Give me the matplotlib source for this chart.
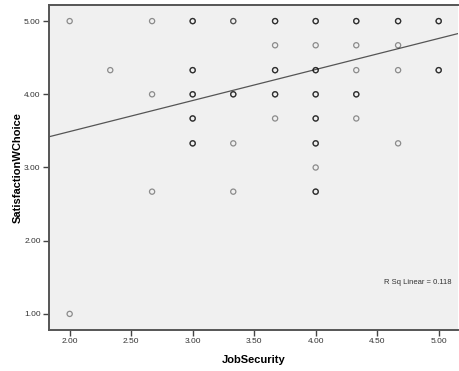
import numpy as np
import matplotlib
matplotlib.use("Agg")
import matplotlib.pyplot as plt

# unique (JobSecurity, SatisfactionWChoice) positions and rough overlap counts
job_security = [2.00, 2.00, 2.33, 2.67, 2.67, 2.67,
                3.00, 3.00, 3.00, 3.00, 3.00,
                3.33, 3.33, 3.33, 3.33,
                3.67, 3.67, 3.67, 3.67, 3.67,
                4.00, 4.00, 4.00, 4.00, 4.00, 4.00, 4.00, 4.00,
                4.33, 4.33, 4.33, 4.33, 4.33,
                4.67, 4.67, 4.67, 4.67,
                5.00, 5.00]
satisfaction = [5.00, 1.00, 4.33, 5.00, 4.00, 2.67,
                5.00, 4.33, 4.00, 3.67, 3.33,
                5.00, 4.00, 3.33, 2.67,
                5.00, 4.67, 4.33, 4.00, 3.67,
                5.00, 4.67, 4.33, 4.00, 3.67, 3.33, 3.00, 2.67,
                5.00, 4.67, 4.33, 4.00, 3.67,
                5.00, 4.67, 4.33, 3.33,
                5.00, 4.33]
overlap = [1, 1, 1, 1, 1, 1,
           3, 3, 3, 3, 3,
           2, 3, 1, 1,
           3, 1, 3, 3, 1,
           3, 1, 3, 3, 3, 3, 1, 3,
           3, 1, 1, 3, 1,
           3, 1, 1, 1,
           3, 3]

# fit line
fit_intercept = 2.643
fit_slope = 0.424
r_sq = 0.118

x_ticks = [2.0, 2.5, 3.0, 3.5, 4.0, 4.5, 5.0]
y_ticks = [1.0, 2.0, 3.0, 4.0, 5.0]

plt.rcParams['font.family'] = ['Liberation Sans', 'DejaVu Sans']

fig = plt.figure(figsize=(4.59, 3.71), dpi=100)
ax = fig.add_axes([49 / 459, 41 / 371, 409 / 459, 325 / 371])
ax.set_facecolor('#f0f0f0')

xs = np.repeat(job_security, overlap)
ys = np.repeat(satisfaction, overlap)
ax.scatter(xs, ys, s=14, facecolors='none', edgecolors=(0, 0, 0, 0.42),
           linewidths=0.9, zorder=3)

xlim = (1.832, 5.157)
xl = np.array(xlim)
ax.plot(xl, fit_intercept + fit_slope * xl, color='#555555', lw=0.9, zorder=2)

ax.set_xlim(*xlim)
ax.set_ylim(0.78, 5.22)
ax.set_xticks(x_ticks)
ax.set_yticks(y_ticks)
ax.set_xticklabels([f"{v:.2f}" for v in x_ticks])
ax.set_yticklabels([f"{v:.2f}" for v in y_ticks])
ax.tick_params(direction='out', length=4, width=1, color='#444444',
               labelsize=6, labelcolor='#333333', pad=2)

for side in ['left', 'bottom', 'top', 'right']:
    ax.spines[side].set_color('#555555')
    ax.spines[side].set_linewidth(1.4)
ax.spines['right'].set_visible(False)

ax.set_xlabel('JobSecurity', fontsize=8, fontweight='bold', labelpad=7)
ax.set_ylabel('SatisfactionWChoice', fontsize=8, fontweight='bold')
ax.yaxis.set_label_coords(-0.063, 0.5)

ax.text(0.983, 0.146, f"R Sq Linear = {r_sq}", transform=ax.transAxes,
        fontsize=5.5, color='#333333', ha='right', va='center')

fig.savefig('out.png', dpi=100)
